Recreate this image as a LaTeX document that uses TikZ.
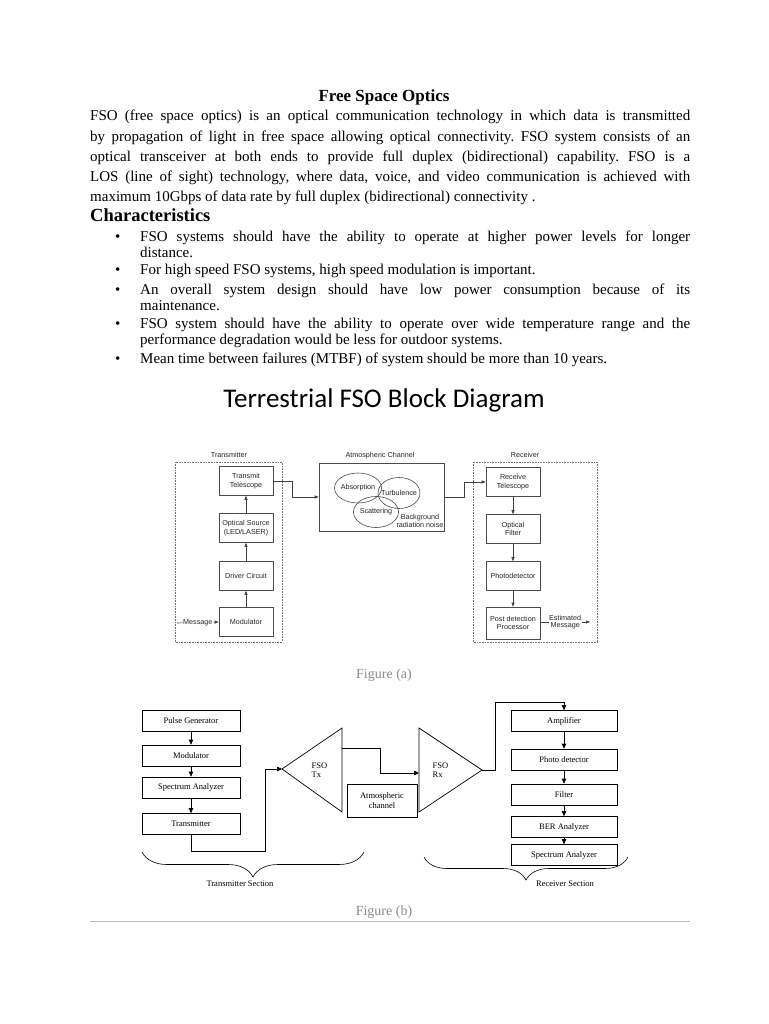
\documentclass[tikz,border=0pt]{standalone}
\usepackage{fontspec}
\setmainfont{Liberation Serif}
\newfontfamily\calibrifont{Carlito}
\newfontfamily\arialfont{Liberation Sans}
\usetikzlibrary{positioning, arrows.meta, calc, shapes.geometric, decorations.pathreplacing}
\frenchspacing

\begin{document}
\begin{tikzpicture}[x=1pt, y=-1pt,
	body/.style={anchor=base west, inner sep=0pt, align=justify, font=\fontsize{15}{20.2}\selectfont},
	item/.style={body, text width=550pt, font=\fontsize{15}{16.2}\selectfont},
	dot/.style={anchor=base west, inner sep=0pt, font=\fontsize{15}{16}\selectfont},
	ablock/.style={draw=black!70, line width=0.6pt, minimum width=54pt, minimum height=29pt, inner sep=1pt, align=center, text=black!85, font=\arialfont\fontsize{7.2}{8.4}\selectfont},
	atext/.style={inner sep=0.5pt, align=center, text=black!85, font=\arialfont\fontsize{7.2}{8.4}\selectfont},
	ellip/.style={ellipse, draw=black!70, line width=0.6pt, inner sep=0pt},
	dotbox/.style={draw=black!55, line width=0.6pt, densely dotted},
	aline/.style={draw=black!75, line width=0.6pt, -{Triangle[length=4pt, width=3pt]}},
	bblock/.style={draw, line width=0.7pt, minimum height=21pt, inner sep=1pt, font=\fontsize{8.5}{9.5}\selectfont},
	btext/.style={inner sep=0.5pt, align=center, font=\fontsize{8.5}{9.5}\selectfont},
	bline/.style={draw, line width=0.7pt},
	barrow/.style={bline, -{Triangle[length=5pt, width=4.5pt]}},
	caption/.style={text=black!45, font=\fontsize{14}{16}\selectfont}]
	\fill[white] (0,0) rectangle (768,1024);
	\useasboundingbox (0,0) rectangle (768,1024);

	\node[font=\bfseries\fontsize{17}{20}\selectfont] (title) at (384,97) {Free Space Optics};
	\node[body, text width=600pt] (intro) at (90,121) {\hyphenpenalty=10000
		FSO (free space optics) is an optical communication technology in which data is transmitted\linebreak
		by propagation of light in free space allowing optical connectivity. FSO system consists of an\linebreak
		optical transceiver at both ends to provide full duplex (bidirectional) capability. FSO is a\linebreak
		LOS (line of sight) technology, where data, voice, and video communication is achieved with\linebreak
		maximum 10Gbps of data rate by full duplex (bidirectional) connectivity .};

	\node[anchor=base west, inner sep=0pt, font=\bfseries\fontsize{18.5}{22}\selectfont] (charhead) at (90,222) {Characteristics};
	\foreach \y in {241.5, 274.5, 294.5, 328.5, 363.5}
		\node[dot] at (115,\y) {\textbullet};
	\node[item] (c1) at (140,241.5) {\hyphenpenalty=10000
		FSO systems should have the ability to operate at higher power levels for longer\linebreak distance.};
	\node[item] (c2) at (140,274.5) {For high speed FSO systems, high speed modulation is important.};
	\node[item] (c3) at (140,294.5) {\hyphenpenalty=10000
		An overall system design should have low power consumption because of its\linebreak maintenance.};
	\node[item] (c4) at (140,328.5) {\hyphenpenalty=10000
		FSO system should have the ability to operate over wide temperature range and the\linebreak
		performance degradation would be less for outdoor systems.};
	\node[item] (c5) at (140,363.5) {Mean time between failures (MTBF) of system should be more than 10 years.};

	\node[font=\calibrifont\fontsize{27}{32}\selectfont] (blockhead) at (384,400) {Terrestrial FSO Block Diagram};

	% figure (a)
	\draw[dotbox] (175,462) rectangle (282,642);
	\draw[dotbox] (473,462) rectangle (597,642);
	\node[atext] (txlab) at (229,455) {Transmitter};
	\node[atext] (chlab) at (380,456) {Atmospheric Channel};
	\node[atext] (rxlab) at (525,455) {Receiver};

	\node[ablock] (txtel) at (246,481) {Transmit\\Telescope};
	\node[ablock] (optsrc) at (246,528) {Optical Source\\(LED/LASER)};
	\node[ablock] (drv) at (246,576) {Driver Circuit};
	\node[ablock] (mod) at (246,622) {Modulator};

	\node[draw=black!70, line width=0.6pt, minimum width=125pt, minimum height=68pt] (atm) at (381.5,497) {};
	\node[ellip, minimum width=47pt, minimum height=30pt, label={[atext]center:Absorption}] (absorp) at (358,488) {};
	\node[ellip, minimum width=42pt, minimum height=31pt, label={[atext]center:Turbulence}] (turb) at (399,493) {};
	\node[ellip, minimum width=45pt, minimum height=31pt, label={[atext]center:Scattering}] (scatt) at (376,512) {};
	\node[atext, font=\arialfont\fontsize{7.2}{8}\selectfont] (bgnoise) at (420,521) {Background\\radiation noise};

	\node[ablock] (rxtel) at (513,482) {Receive\\Telescope};
	\node[ablock] (optfil) at (513,529) {Optical\\Filter};
	\node[ablock] (pdet) at (513,576) {Photodetector};
	\node[ablock, minimum height=32pt] (post) at (513,623) {Post detection\\Processor};

	\draw[aline] (mod) -- (drv);
	\draw[aline] (drv) -- (optsrc);
	\draw[aline] (optsrc) -- (txtel);
	\draw[aline] (txtel.east) -- ++(19,0) |- (atm.west);
	\draw[aline] (atm.east) -- ++(20,0) |- (rxtel.west);
	\draw[aline] (rxtel) -- (optfil);
	\draw[aline] (optfil) -- (pdet);
	\draw[aline] (pdet) -- (post);
	\coordinate (msgin) at (177,623);
	\coordinate (estout) at (590,622);
	\draw[aline] (msgin) -- node[atext, fill=white] {Message} (mod.west);
	\draw[aline] (post.east |- estout) -- node[atext, fill=white, font=\arialfont\fontsize{7.2}{7.6}\selectfont] {Estimated\\Message} (estout);

	\node[caption] (capa) at (384,675) {Figure (a)};

	% figure (b)
	\node[bblock, minimum width=98pt] (pulse) at (191,720.5) {Pulse Generator};
	\node[bblock, minimum width=98pt] (bmod) at (191,755.5) {Modulator};
	\node[bblock, minimum width=98pt] (bspec) at (191,787.5) {Spectrum Analyzer};
	\node[bblock, minimum width=98pt] (btrans) at (191,824) {Transmitter};

	\coordinate (txapex) at (282,769);
	\coordinate (txtop) at (342,728);
	\coordinate (txbot) at (342,812);
	\coordinate (txout) at (342,748);
	\coordinate (rxtop) at (419,728);
	\coordinate (rxbot) at (419,812);
	\coordinate (rxin) at (419,773);
	\coordinate (rxapex) at (482,770);
	\draw[bline] (txapex) -- (txtop) -- (txbot) -- cycle;
	\draw[bline] (rxapex) -- (rxtop) -- (rxbot) -- cycle;
	\node[btext, anchor=west, align=left] (txname) at (311,770) {FSO\\Tx};
	\node[btext, anchor=west, align=left] (rxname) at (432,770) {FSO\\Rx};
	\node[bblock, minimum width=70pt, minimum height=33pt, align=center] (bchan) at (382,800.5) {Atmospheric\\channel};

	\node[bblock, minimum width=106pt] (amp) at (564,721) {Amplifier};
	\node[bblock, minimum width=106pt] (photo) at (564,759.5) {Photo detector};
	\node[bblock, minimum width=106pt] (filt) at (564,794.5) {Filter};
	\node[bblock, minimum width=106pt] (ber) at (564,827) {BER Analyzer};
	\node[bblock, minimum width=106pt] (rspec) at (564,855) {Spectrum Analyzer};

	\draw[barrow] (pulse) -- (bmod);
	\draw[barrow] (bmod) -- (bspec);
	\draw[barrow] (bspec) -- (btrans);
	\coordinate (tbend) at (265,851);
	\draw[barrow] (btrans.south) |- (tbend) |- (txapex);
	\draw[barrow] (txout) -- ++(38,0) |- (rxin);
	\draw[barrow] (rxapex) -- ++(13,0) |- ($(amp.north)+(0,-8)$) -- (amp.north);
	\draw[barrow] (amp) -- (photo);
	\draw[barrow] (photo) -- (filt);
	\draw[barrow] (filt) -- (ber);
	\draw[barrow] (ber) -- (rspec);

	\coordinate (tbrl) at (142,852);
	\coordinate (tbrr) at (364,852);
	\coordinate (rbrl) at (424,857);
	\coordinate (rbrr) at (628,857);
	\draw[bline, line width=0.6pt, decorate, decoration={brace, mirror, amplitude=25pt}] (tbrl) -- (tbrr);
	\draw[bline, line width=0.6pt, decorate, decoration={brace, mirror, amplitude=23pt}] (rbrl) -- (rbrr);
	\node[btext] (txsec) at (240,884) {Transmitter Section};
	\node[btext] (rxsec) at (565,884) {Receiver Section};

	\node[caption] (capb) at (384,912) {Figure (b)};
	\coordinate (rulel) at (90,921);
	\coordinate (ruler) at (690,921);
	\draw[black!25, line width=0.8pt] (rulel) -- (ruler);
\end{tikzpicture}
\end{document}
